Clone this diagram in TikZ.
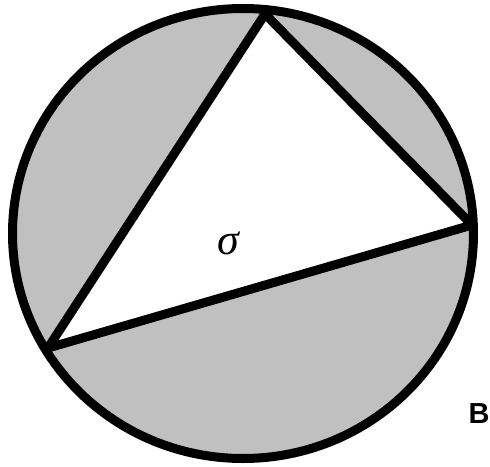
\documentclass[tikz,border=0pt]{standalone}
\usepackage{fontspec}
\setmainfont{Liberation Serif}
\newfontfamily\labelsans{Liberation Sans}
\definecolor{segment}{HTML}{C0C0C0}
\tikzset{
  outline/.style={line width=9pt, line join=round, line cap=round},
  lbl/.style={inner sep=0pt, outer sep=0pt}
}
\begin{document}
\begin{tikzpicture}[x=1pt,y=-1pt]
\useasboundingbox (0,0) rectangle (490,466);
\coordinate (T) at (265,14);
\coordinate (R) at (472,225);
\coordinate (L) at (48,348);
\fill[segment] (243,233.5) ellipse [x radius=230.5, y radius=225];
\fill[white] (T) -- (R) -- (L) -- cycle;
\draw[outline] (243,233.5) ellipse [x radius=230.5, y radius=225];
\draw[outline] (T) -- (R) -- (L) -- cycle;
\node[lbl] (sigma) at (228,243) {\fontsize{44}{44}\selectfont\itshape σ};
\node[lbl, anchor=east] (B) at (489.5,414) {\labelsans\bfseries\fontsize{29}{29}\selectfont B};
\end{tikzpicture}
\end{document}
